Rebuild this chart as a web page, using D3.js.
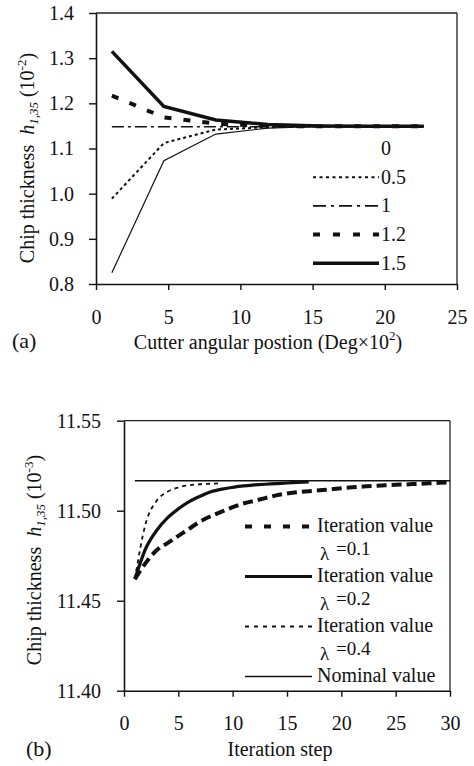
<!DOCTYPE html>
<html>
<head>
<meta charset="utf-8">
<script src="https://cdn.jsdelivr.net/npm/d3@7"></script>
<style>
  html, body { margin: 0; padding: 0; background: #fff; }
  svg { display: block; }
  text { font-family: "Liberation Serif", "Times New Roman", serif; fill: #111; }
</style>
</head>
<body>
<svg id="chart" width="474" height="766"></svg>
<script>
// ---- Panel (a): chip thickness vs. cutter angular position ----
const angleA = [1.1, 4.7, 8.3, 11.9, 15.5, 19.1, 22.7];
const thick0   = [0.825, 1.073, 1.132, 1.145, 1.149, 1.149, 1.149];
const thick05  = [0.989, 1.112, 1.142, 1.147, 1.149, 1.149, 1.149];
const thick1   = [1.148, 1.148, 1.148, 1.148, 1.148, 1.148, 1.148];
const thick12  = [1.217, 1.169, 1.155, 1.150, 1.149, 1.149, 1.149];
const thick15  = [1.315, 1.193, 1.163, 1.153, 1.150, 1.149, 1.149];
const seriesNamesA = ["0", "0.5", "1", "1.2", "1.5"];
const xTicksA = [0, 5, 10, 15, 20, 25];
const yTicksA = [0.8, 0.9, 1.0, 1.1, 1.2, 1.3, 1.4];

// ---- Panel (b): chip thickness vs. iteration step ----
const stepsL01 = d3.range(1, 31);
const iterL01 = [11.462, 11.471, 11.478, 11.482, 11.486, 11.490, 11.494, 11.497, 11.4995, 11.502,
                 11.504, 11.5055, 11.507, 11.5085, 11.5095, 11.5103, 11.5108, 11.5113, 11.5118, 11.5125,
                 11.513, 11.5134, 11.5138, 11.5141, 11.5144, 11.5146, 11.5149, 11.5152, 11.5155, 11.5158];
const stepsL02 = d3.range(1, 18);
const iterL02 = [11.462, 11.479, 11.489, 11.496, 11.501, 11.505, 11.508, 11.5105, 11.512, 11.513,
                 11.5138, 11.5143, 11.5147, 11.515, 11.5154, 11.5157, 11.516];
const stepsL04 = d3.range(1, 10);
const iterL04 = [11.462, 11.493, 11.5055, 11.5105, 11.513, 11.5142, 11.5147, 11.515, 11.5153];
const nominalSteps = [1, 30];
const nominalValue = [11.5166, 11.5166];
const legendB = [
  { label: "Iteration value", lambda: "=0.1" },
  { label: "Iteration value", lambda: "=0.2" },
  { label: "Iteration value", lambda: "=0.4" },
  { label: "Nominal value", lambda: null }
];
const xTicksB = [0, 5, 10, 15, 20, 25, 30];
const yTicksB = [11.40, 11.45, 11.50, 11.55];

const svg = d3.select("#chart");
const FONT = 20;
const SERIF = '"Liberation Serif", "Times New Roman", serif';

// top and right edges of a plot box
function frame(g, x, y) {
  const [x0, x1] = x.range();
  const [y0, y1] = y.range();
  g.append("line").attr("x1", x0).attr("x2", x1).attr("y1", y1).attr("y2", y1)
    .attr("stroke", "#222").attr("stroke-width", 1.3);
  g.append("line").attr("x1", x1).attr("x2", x1).attr("y1", y1).attr("y2", y0)
    .attr("stroke", "#222").attr("stroke-width", 1.3);
}

function axes(g, x, y, xTicks, yTicks, yFmt, yPad, xPad) {
  const [y0] = y.range();
  const [x0] = x.range();
  const ax = g.append("g").attr("transform", `translate(0,${y0})`)
    .call(d3.axisBottom(x).tickValues(xTicks).tickSize(6).tickSizeOuter(0).tickPadding(xPad).tickFormat(d3.format("d")));
  const ay = g.append("g").attr("transform", `translate(${x0},0)`)
    .call(d3.axisLeft(y).tickValues(yTicks).tickSize(7).tickSizeOuter(0).tickPadding(yPad).tickFormat(yFmt));
  [ax, ay].forEach(a => {
    a.select(".domain").attr("stroke", "#111").attr("stroke-width", 1.6);
    a.selectAll(".tick line").attr("stroke", "#111").attr("stroke-width", 1.4);
    a.selectAll(".tick text")
      .style("font-size", FONT + "px")
      .style("font-family", SERIF)
      .style("fill", "#111");
  });
}

function yLabel(g, cx, cy, sup) {
  const t = g.append("text")
    .attr("transform", `translate(${cx},${cy}) rotate(-90)`)
    .attr("text-anchor", "middle").style("font-size", FONT + "px");
  t.append("tspan").text("Chip thickness\u00a0\u00a0");
  t.append("tspan").attr("font-style", "italic").text("h");
  t.append("tspan").attr("font-style", "italic").style("font-size", "13px").attr("dy", 4).text("1,35");
  t.append("tspan").attr("dy", -4).text("\u00a0(10");
  t.append("tspan").style("font-size", "13px").attr("dy", -8).text(sup);
  t.append("tspan").attr("dy", 8).text(")");
}

// ================= Panel (a) =================
const gA = svg.append("g");
const xA = d3.scaleLinear().domain([0, 25]).range([96, 457]);
const yA = d3.scaleLinear().domain([0.8, 1.4]).range([284, 13]);

frame(gA, xA, yA);

const stylesA = [
  { w: 1.2, dash: null },
  { w: 2.0, dash: "3,3" },
  { w: 1.6, dash: "12,4,3,4" },
  { w: 4.0, dash: "7,12" },
  { w: 3.5, dash: null }
];
const legendDashA = [null, "3,3.5", "13,5,3,5", "7,13", null];
const dataA = [thick0, thick05, thick1, thick12, thick15];

const lineA = d3.line().x(d => xA(d[0])).y(d => yA(d[1]));
dataA.forEach((vals, i) => {
  gA.append("path")
    .datum(angleA.map((a, j) => [a, vals[j]]))
    .attr("d", lineA)
    .attr("fill", "none").attr("stroke", "#111")
    .attr("stroke-width", stylesA[i].w)
    .attr("stroke-dasharray", stylesA[i].dash);
});

axes(gA, xA, yA, xTicksA, yTicksA, d3.format(".1f"), 15, 20);
yLabel(gA, 34, 158, "-2");

// legend (a)
seriesNamesA.forEach((name, i) => {
  const by = 155 + i * 28.7;
  if (i > 0) {
    gA.append("line").attr("x1", 313).attr("x2", 379).attr("y1", by - 6.5).attr("y2", by - 6.5)
      .attr("stroke", "#111").attr("stroke-width", stylesA[i].w)
      .attr("stroke-dasharray", legendDashA[i]);
  }
  gA.append("text").attr("x", 381).attr("y", by).style("font-size", FONT + "px").text(name);
});

const xtA = gA.append("text").attr("x", 268).attr("y", 349).attr("text-anchor", "middle").style("font-size", FONT + "px");
xtA.append("tspan").text("Cutter angular postion (Deg\u00d710");
xtA.append("tspan").style("font-size", "13px").attr("dy", -9).text("2");
xtA.append("tspan").attr("dy", 9).text(")");
gA.append("text").attr("x", 12).attr("y", 348).style("font-size", "22px").text("(a)");

// ================= Panel (b) =================
const gB = svg.append("g");
const xB = d3.scaleLinear().domain([0, 30]).range([124, 450]);
const yB = d3.scaleLinear().domain([11.40, 11.55]).range([690.7, 420.7]);

frame(gB, xB, yB);

const lineB = d3.line().x(d => xB(d[0])).y(d => yB(d[1])).curve(d3.curveMonotoneX);
const seriesB = [
  { xs: stepsL01, ys: iterL01, w: 4.0, dash: "10,5", ldash: "7,12" },
  { xs: stepsL02, ys: iterL02, w: 3.2, dash: null, ldash: null },
  { xs: stepsL04, ys: iterL04, w: 1.8, dash: "4,4", ldash: "4,5" },
  { xs: nominalSteps, ys: nominalValue, w: 1.4, dash: null, ldash: null }
];
seriesB.forEach(s => {
  gB.append("path")
    .datum(s.xs.map((v, j) => [v, s.ys[j]]))
    .attr("d", lineB)
    .attr("fill", "none").attr("stroke", "#111")
    .attr("stroke-width", s.w)
    .attr("stroke-dasharray", s.dash);
});

axes(gB, xB, yB, xTicksB, yTicksB, d3.format(".2f"), 16, 19);
yLabel(gB, 41, 560, "-3");

// legend (b): each λ note is one text element with a raised value
legendB.forEach((entry, i) => {
  const by = 531.5 + i * 50;
  const s = seriesB[i];
  gB.append("line").attr("x1", 245).attr("x2", 312).attr("y1", by - 5).attr("y2", by - 5)
    .attr("stroke", "#111").attr("stroke-width", s.w)
    .attr("stroke-dasharray", s.ldash);
  gB.append("text").attr("x", 317).attr("y", by).style("font-size", FONT + "px").text(entry.label);
  if (entry.lambda) {
    const t = gB.append("text").attr("x", 320).attr("y", by + 28).style("font-size", "19px");
    t.append("tspan").text("\u03bb");
    t.append("tspan").attr("x", 336).attr("dy", -4.5).text(entry.lambda);
  }
});

gB.append("text").attr("x", 280).attr("y", 756).attr("text-anchor", "middle").style("font-size", FONT + "px").text("Iteration step");
gB.append("text").attr("x", 26).attr("y", 756).style("font-size", "22px").text("(b)");
</script>
</body>
</html>
